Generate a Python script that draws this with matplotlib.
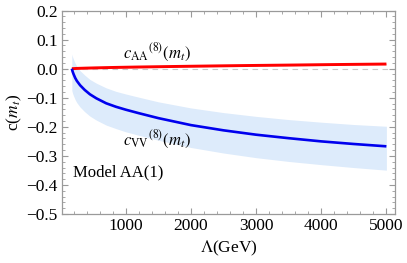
import matplotlib

matplotlib.use("Agg")
import matplotlib.pyplot as plt
import numpy as np
from matplotlib.ticker import MultipleLocator

# values
lam = [173, 185, 200, 225, 250, 300, 370, 450, 550, 700, 850, 1000, 1200,
       1500, 2000, 2500, 3000, 3500, 4000, 4500, 5000]
c_vv = [0.0, -0.010, -0.019, -0.032, -0.042, -0.057, -0.073, -0.088, -0.102,
        -0.119, -0.131, -0.141, -0.153, -0.170, -0.194, -0.212, -0.227,
        -0.239, -0.250, -0.259, -0.267]
c_vv_hi = [0.050, 0.040, 0.031, 0.018, 0.008, -0.007, -0.022, -0.037, -0.050,
           -0.066, -0.078, -0.087, -0.098, -0.114, -0.135, -0.151, -0.164,
           -0.175, -0.184, -0.192, -0.198]
c_vv_lo = [-0.075, -0.085, -0.094, -0.107, -0.117, -0.132, -0.148, -0.163,
           -0.177, -0.194, -0.206, -0.217, -0.229, -0.246, -0.271, -0.290,
           -0.306, -0.319, -0.330, -0.340, -0.349]
c_aa = [0.0, 0.0001, 0.0003, 0.0006, 0.0009, 0.0013, 0.0018, 0.0023, 0.0029,
        0.0037, 0.0044, 0.0050, 0.0058, 0.0068, 0.0084, 0.0099, 0.0112,
        0.0124, 0.0137, 0.0149, 0.0160]
aa_halfwidth = 0.003

plt.rcParams["font.family"] = ["Liberation Serif", "DejaVu Serif"]
plt.rcParams["mathtext.fontset"] = "stix"

fig = plt.figure(figsize=(4.07, 2.63), dpi=100)
ax = fig.add_axes([0.152, 0.186, 0.819, 0.774])

lam_a = np.array(lam)
ax.fill_between(lam_a, c_vv_lo, c_vv_hi, color="#ddebfb", lw=0)
ax.fill_between(lam_a, np.array(c_aa) - aa_halfwidth, np.array(c_aa) + aa_halfwidth,
                color="#ffc4c4", lw=0)
ax.axhline(0.0, color="#c8c8c8", lw=0.8, ls=(0, (5, 4)), zorder=1)
ax.plot(lam_a, c_aa, color="#ff0000", lw=2.1, zorder=3, solid_capstyle="butt")
ax.plot(lam_a, c_vv, color="#0000ee", lw=1.9, zorder=3, solid_capstyle="butt")

ax.text(1480, 0.055, r"$c_{\rm AA}{}^{(8)}(m_t)$", fontsize=12, ha="center", va="center")
ax.text(1480, -0.246, r"$c_{\rm VV}{}^{(8)}(m_t)$", fontsize=12, ha="center", va="center")
ax.text(185, -0.357, "Model AA(1)", fontsize=12, ha="left", va="center")

ax.set_xlim(20, 5135)
ax.set_ylim(-0.5, 0.2)
ax.xaxis.set_major_locator(MultipleLocator(1000))
ax.xaxis.set_minor_locator(MultipleLocator(200))
ax.yaxis.set_major_locator(MultipleLocator(0.1))
ax.yaxis.set_minor_locator(MultipleLocator(0.02))
ax.yaxis.set_major_formatter(lambda v, p: f"{v:.1f}".replace("-", "\u2212").replace("\u22120.0", "0.0"))

for side in ax.spines.values():
    side.set_color("#9a9a9a")
    side.set_linewidth(0.9)
ax.tick_params(which="both", direction="in", top=True, right=True, color="#9a9a9a",
               labelsize=12.5, pad=3)
ax.tick_params(which="major", length=4, width=0.8)
ax.tick_params(which="minor", length=2, width=0.6)

ax.set_xlabel(r"$\Lambda$(GeV)", fontsize=12.5, labelpad=3)
ax.set_ylabel(r"c($m_t$)", fontsize=12.5, labelpad=2)

fig.savefig("out.png", dpi=100)
